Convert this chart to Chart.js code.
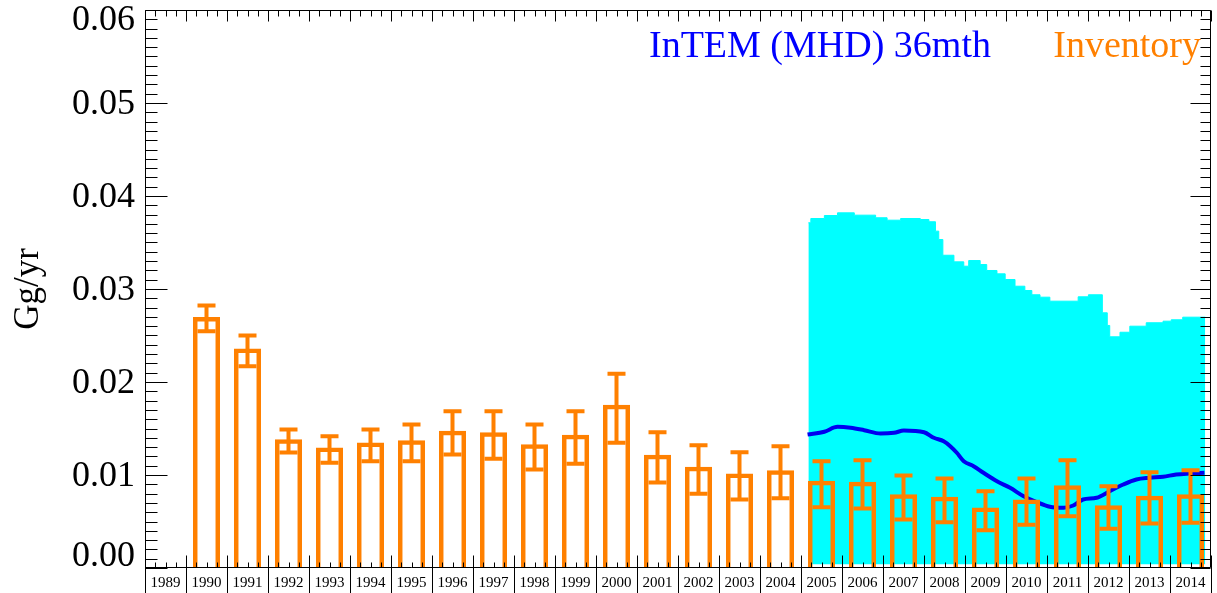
<!DOCTYPE html>
<html>
<head>
<meta charset="utf-8">
<script src="https://cdn.jsdelivr.net/npm/chart.js@4.4.1/dist/chart.umd.min.js"></script>
<style>
  html, body { margin: 0; padding: 0; background: #ffffff; }
  #wrap { width: 1217px; height: 593px; position: relative; }
  canvas { display: block; }
</style>
</head>
<body>
<div id="wrap"><canvas id="c" width="1217" height="593"></canvas></div>
<script>
// ---- data ----
const years = [1989, 1990, 1991, 1992, 1993, 1994, 1995, 1996, 1997, 1998, 1999, 2000, 2001,
               2002, 2003, 2004, 2005, 2006, 2007, 2008, 2009, 2010, 2011, 2012, 2013, 2014];
const yTicks = [0, 0.01, 0.02, 0.03, 0.04, 0.05, 0.06];
const yTickLabels = ['0.00', '0.01', '0.02', '0.03', '0.04', '0.05', '0.06'];

const inventoryYears = [1990, 1991, 1992, 1993, 1994, 1995, 1996, 1997, 1998, 1999, 2000, 2001,
                        2002, 2003, 2004, 2005, 2006, 2007, 2008, 2009, 2010, 2011, 2012, 2013, 2014];
const inventory = [0.0270, 0.0236, 0.01385, 0.01296, 0.0135, 0.01374, 0.01475, 0.0146, 0.01331, 0.01432,
                   0.01755, 0.01217, 0.01088, 0.01016, 0.01052, 0.00938, 0.00927, 0.00794, 0.00766, 0.00651,
                   0.00737, 0.00889, 0.00675, 0.00777, 0.00794];
const inventoryHigh = [0.02823, 0.0250, 0.0149, 0.01417, 0.0149, 0.01543, 0.01686, 0.01686, 0.01543, 0.01686,
                       0.0209, 0.0146, 0.0132, 0.01245, 0.0131, 0.01148, 0.01159, 0.00995, 0.00962, 0.00826,
                       0.00962, 0.01159, 0.0088, 0.0103, 0.01052];
const inventoryLow = [0.02546, 0.0217, 0.01242, 0.01131, 0.01148, 0.01148, 0.0122, 0.01174, 0.01059, 0.01121,
                      0.01346, 0.0092, 0.00798, 0.00737, 0.00751, 0.00654, 0.0064, 0.00522, 0.00492, 0.00406,
                      0.00465, 0.00557, 0.00422, 0.00478, 0.00486];

const intemTime = [2005.16, 2005.57, 2005.89, 2006.21, 2006.54, 2006.94, 2007.27, 2007.51, 2008.0, 2008.24,
                   2008.48, 2008.64, 2008.80, 2008.97, 2009.21, 2009.45, 2009.78, 2010.10, 2010.43, 2010.75,
                   2011.07, 2011.40, 2011.64, 2011.88, 2012.21, 2012.53, 2012.86, 2013.18, 2013.50, 2013.83,
                   2014.15, 2014.48, 2014.84];
const intemValue = [0.01435, 0.01465, 0.01518, 0.01508, 0.01482, 0.01446, 0.01454, 0.01478, 0.0146, 0.0140,
                    0.01363, 0.0131, 0.01239, 0.01148, 0.01095, 0.01024, 0.00933, 0.00862, 0.00772, 0.00708,
                    0.00658, 0.00647, 0.00672, 0.00737, 0.00755, 0.00826, 0.00898, 0.00952, 0.0097, 0.00981,
                    0.01005, 0.01016, 0.01024];

const bandTime = [2005.18, 2005.24, 2005.57, 2005.89, 2006.30, 2006.82, 2007.10, 2007.43, 2007.91, 2008.12,
                  2008.28, 2008.36, 2008.46, 2008.73, 2008.97, 2009.09, 2009.37, 2009.53, 2009.78, 2009.98,
                  2010.22, 2010.46, 2010.63, 2010.83, 2011.07, 2011.76, 2012.01, 2012.35, 2012.47, 2012.53,
                  2012.78, 2013.02, 2013.42, 2013.83, 2014.03, 2014.31, 2014.86];
const bandUpper = [0.03712, 0.03758, 0.0379, 0.03819, 0.03794, 0.03766, 0.0374, 0.03758, 0.03747, 0.03723,
                   0.03622, 0.03532, 0.03363, 0.03292, 0.03245, 0.03306, 0.03263, 0.03199, 0.03163, 0.03102,
                   0.0303, 0.02984, 0.02938, 0.02912, 0.02869, 0.02916, 0.02938, 0.02744, 0.02608, 0.02486,
                   0.02535, 0.026, 0.02637, 0.02654, 0.02669, 0.02697, 0.02697];
const bandFloor = 0.0004;

const legendLabels = ['InTEM (MHD) 36mth', 'Inventory'];

// ---- styles ----
const ORANGE = '#ff8000';
const BLUE = '#0000f0';
const CYAN = '#00ffff';
const SERIF = '"Liberation Serif", "Times New Roman", serif';

const rootStyle = {
  id: 'rootStyle',
  afterDatasetsDraw(chart) {
    const {ctx, scales: {x, y}} = chart;
    ctx.save();
    ctx.strokeStyle = ORANGE;
    ctx.lineWidth = 4;
    ctx.lineCap = 'butt';
    inventoryYears.forEach((yr, i) => {
      const px = x.getPixelForValue(yr + 0.5);
      const yh = y.getPixelForValue(inventoryHigh[i]);
      const yl = y.getPixelForValue(inventoryLow[i]);
      ctx.beginPath();
      ctx.moveTo(px, yh); ctx.lineTo(px, yl);
      ctx.moveTo(px - 9, yh); ctx.lineTo(px + 9, yh);
      ctx.moveTo(px - 9, yl); ctx.lineTo(px + 9, yl);
      ctx.stroke();
    });
    ctx.restore();
  },
  afterDraw(chart) {
    const {ctx, chartArea: a, scales: {x, y}} = chart;
    ctx.save();
    ctx.strokeStyle = '#000';
    ctx.lineWidth = 1;
    const L = Math.round(a.left) + 0.5, R = Math.round(a.right) - 0.5;
    const T = Math.round(a.top) + 0.5, B = Math.round(a.bottom) - 0.5;
    ctx.beginPath();
    ctx.rect(L, T, R - L, B - T);
    // y ticks (left and right)
    for (let k = 0; k <= 60; k++) {
      const v = k / 1000;
      const py = Math.round(y.getPixelForValue(v)) + 0.5;
      const major = k % 10 === 0;
      ctx.moveTo(L, py); ctx.lineTo(L + (major ? 22 : 12), py);
      ctx.moveTo(R, py); ctx.lineTo(R - (major ? 20 : 10), py);
    }
    // x ticks (top and bottom)
    const y0 = years[0], y1 = years[years.length - 1] + 1;
    for (let yr = y0; yr <= y1; yr++) {
      const px = Math.round(x.getPixelForValue(yr)) + 0.5;
      ctx.moveTo(px, B - 12); ctx.lineTo(px, chart.height);
      ctx.moveTo(px, T); ctx.lineTo(px, T + 11);
      if (yr < y1) {
        for (const q of [0.25, 0.5, 0.75]) {
          const qx = Math.round(x.getPixelForValue(yr + q)) + 0.5;
          ctx.moveTo(qx, B - 5); ctx.lineTo(qx, B);
          ctx.moveTo(qx, T); ctx.lineTo(qx, T + 6);
        }
      }
    }
    ctx.stroke();

    // y tick labels
    ctx.fillStyle = '#000';
    ctx.font = '36px ' + SERIF;
    ctx.textAlign = 'right';
    ctx.textBaseline = 'middle';
    yTicks.forEach((v, i) => {
      let py = y.getPixelForValue(v) + 2;
      if (i === 0) py = y.getPixelForValue(v) - 11;
      if (i === yTicks.length - 1) py = y.getPixelForValue(v) + 11;
      ctx.fillText(yTickLabels[i], a.left - 10, py);
    });

    // legend texts
    ctx.font = '38px ' + SERIF;
    ctx.textBaseline = 'alphabetic';
    ctx.textAlign = 'left';
    ctx.fillStyle = '#0000ff';
    ctx.fillText(legendLabels[0], 649, 57);
    ctx.textAlign = 'right';
    ctx.fillStyle = ORANGE;
    ctx.fillText(legendLabels[1], 1201, 57);
    ctx.restore();
  }
};

new Chart(document.getElementById('c'), {
  type: 'line',
  data: {
    datasets: [
      {
        type: 'bar',
        label: 'Inventory',
        data: inventoryYears.map((yr, i) => ({x: yr + 0.5, y: inventory[i]})),
        backgroundColor: 'rgba(0,0,0,0)',
        borderColor: ORANGE,
        borderWidth: 4.5,
        borderSkipped: 'start',
        barPercentage: 0.66,
        categoryPercentage: 1,
        order: 1
      },
      {
        type: 'line',
        label: 'InTEM (MHD) 36mth',
        data: intemTime.map((t, i) => ({x: t, y: intemValue[i]})),
        borderColor: BLUE,
        borderWidth: 4,
        pointRadius: 0,
        cubicInterpolationMode: 'monotone',
        fill: false,
        order: 2
      },
      {
        type: 'line',
        label: 'band',
        data: bandTime.map((t, i) => ({x: t, y: bandUpper[i]})),
        borderColor: CYAN,
        borderWidth: 1,
        backgroundColor: CYAN,
        pointRadius: 0,
        stepped: 'before',
        fill: {value: bandFloor},
        order: 3
      }
    ]
  },
  options: {
    responsive: false,
    animation: false,
    devicePixelRatio: 1,
    layout: {padding: {left: 0, top: 10, right: 2, bottom: 0}},
    plugins: {legend: {display: false}, tooltip: {enabled: false}},
    scales: {
      x: {
        type: 'linear',
        min: years[0],
        max: years[years.length - 1] + 1,
        offset: false,
        grid: {display: false, drawTicks: false},
        border: {display: false},
        ticks: {
          stepSize: 1,
          autoSkip: false,
          maxRotation: 0,
          minRotation: 0,
          labelOffset: 20.58,
          padding: 6,
          color: '#000',
          font: {family: SERIF, size: 15},
          callback: (v) => (years.includes(v) ? String(v) : '')
        },
        afterFit: (s) => { s.height = 25; }
      },
      y: {
        type: 'linear',
        min: yTicks[0],
        max: yTicks[yTicks.length - 1],
        grid: {display: false, drawTicks: false},
        border: {display: false},
        ticks: {display: false, stepSize: 0.01},
        title: {
          display: true,
          text: 'Gg/yr',
          color: '#000',
          font: {family: SERIF, size: 35},
          padding: {top: 8, bottom: 0}
        },
        afterFit: (s) => { s.width = 145; }
      }
    }
  },
  plugins: [rootStyle]
});
</script>
</body>
</html>
